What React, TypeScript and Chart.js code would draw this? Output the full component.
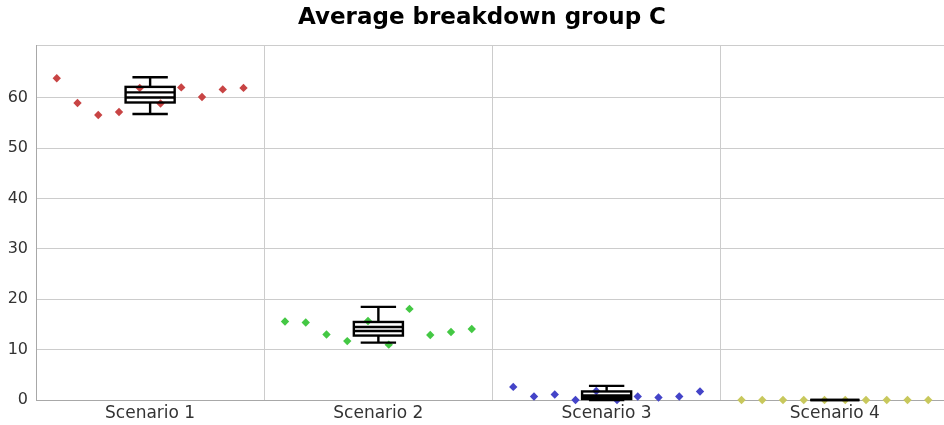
import React, { useEffect, useRef } from "react";
import { Chart, registerables } from "chart.js";

Chart.register(...registerables);

const chartTitle = "Average breakdown group C";
const categories = ["Scenario 1", "Scenario 2", "Scenario 3", "Scenario 4"];

const scenario1 = [63.9, 59.0, 56.6, 57.2, 62.0, 58.9, 62.1, 60.2, 61.7, 62.0];
const scenario2 = [15.6, 15.4, 13.0, 11.7, 15.7, 11.0, 18.1, 12.9, 13.5, 14.1];
const scenario3 = [2.6, 0.7, 1.1, 0.0, 1.8, 0.0, 0.7, 0.5, 0.7, 1.7];
const scenario4 = [0, 0, 0, 0, 0, 0, 0, 0, 0, 0];
const seriesValues = [scenario1, scenario2, scenario3, scenario4];
const pointColors = ["#c84444", "#44c844", "#4444c8", "#c8c85c"];

const whiskerLow = [56.8, 11.4, 0.0, 0];
const q1 = [59.1, 12.8, 0.2, 0];
const median = [61.1, 14.5, 0.9, 0];
const mean = [60.1, 13.7, 0.6, 0];
const q3 = [62.2, 15.5, 1.7, 0];
const whiskerHigh = [64.1, 18.5, 2.8, 0];

const yMax = 70.4;
const yStep = 10;

const BOX_W = 0.215;
const CAP_W = 0.155;
const TITLE_SHIFT = 15;
const GRID = "#cccccc";
const AXIS = "#a8a8a8";
const FONT = "'DejaVu Sans', Verdana, sans-serif";

const titleShiftPlugin = {
  id: "titleShift",
  afterLayout(chart: any) {
    const t = chart.titleBlock;
    if (t) t.left = t.left + TITLE_SHIFT;
  },
};

const boxPlugin = {
  id: "boxes",
  afterDatasetsDraw(chart: any) {
    const { ctx } = chart;
    const x = chart.scales.x;
    const y = chart.scales.y;
    ctx.save();
    ctx.strokeStyle = "#000";
    ctx.lineWidth = 2.4;
    categories.forEach((_, i) => {
      const l = x.getPixelForValue(i - BOX_W / 2);
      const r = x.getPixelForValue(i + BOX_W / 2);
      const cl = x.getPixelForValue(i - CAP_W / 2);
      const cr = x.getPixelForValue(i + CAP_W / 2);
      const cx = x.getPixelForValue(i);
      const yq1 = y.getPixelForValue(q1[i]);
      const yq3 = y.getPixelForValue(q3[i]);
      const ylo = y.getPixelForValue(whiskerLow[i]);
      const yhi = y.getPixelForValue(whiskerHigh[i]);
      const ymed = y.getPixelForValue(median[i]);
      const ymean = y.getPixelForValue(mean[i]);
      ctx.beginPath();
      ctx.moveTo(cx, yq3);
      ctx.lineTo(cx, yhi);
      ctx.moveTo(cl, yhi);
      ctx.lineTo(cr, yhi);
      ctx.moveTo(cx, yq1);
      ctx.lineTo(cx, ylo);
      ctx.moveTo(cl, ylo);
      ctx.lineTo(cr, ylo);
      ctx.moveTo(l, ymed);
      ctx.lineTo(r, ymed);
      ctx.moveTo(l, ymean);
      ctx.lineTo(r, ymean);
      ctx.stroke();
      ctx.strokeRect(l, yq3, r - l, yq1 - yq3);
    });
    ctx.restore();
  },
};

export default function App() {
  const ref = useRef<HTMLCanvasElement>(null);

  useEffect(() => {
    if (!ref.current) return;
    const datasets = seriesValues.map((vals, ci) => ({
      label: categories[ci],
      data: vals.map((v, i) => ({ x: ci + (i + 1) / (vals.length + 1) - 0.5, y: v })),
      backgroundColor: pointColors[ci],
      borderColor: pointColors[ci],
      pointStyle: "rectRot",
      pointRadius: 4.2,
      pointBorderWidth: 0,
      clip: false,
    }));
    const halfTicks: number[] = [];
    for (let i = 0; i < categories.length; i++) {
      halfTicks.push(i - 0.5, i);
    }
    halfTicks.push(categories.length - 0.5);

    const chart = new Chart(ref.current, {
      type: "scatter",
      data: { datasets: datasets as any },
      plugins: [titleShiftPlugin, boxPlugin],
      options: {
        animation: false,
        responsive: false,
        maintainAspectRatio: false,
        layout: { padding: { left: 0, right: 15, top: 0, bottom: 0 } },
        plugins: {
          legend: { display: false },
          tooltip: { enabled: false },
          title: {
            display: true,
            text: chartTitle,
            color: "#000",
            font: { family: FONT, weight: "bold", size: 23 },
            padding: { top: 4, bottom: 14 },
          },
        },
        scales: {
          x: {
            type: "linear",
            min: -0.5,
            max: categories.length - 0.5,
            afterBuildTicks: (s: any) => {
              s.ticks = halfTicks.map((v) => ({ value: v }));
            },
            afterFit: (s: any) => {
              s.height = 25;
            },
            grid: {
              color: (c: any) => (c.tick && !Number.isInteger(c.tick.value) ? GRID : "rgba(0,0,0,0)"),
              drawTicks: false,
              lineWidth: 1,
            },
            border: { color: AXIS, width: 1 },
            ticks: {
              autoSkip: false,
              maxRotation: 0,
              padding: 3,
              color: "#333",
              font: { family: FONT, size: 17 },
              callback: (v: any) => (Number.isInteger(v) ? categories[v] : ""),
            },
          },
          y: {
            min: 0,
            max: yMax,
            afterFit: (s: any) => {
              s.width = 36;
            },
            grid: { color: GRID, drawTicks: false },
            border: { color: AXIS, width: 1 },
            ticks: {
              stepSize: yStep,
              padding: 8,
              color: "#333",
              font: { family: FONT, size: 16 },
              callback: (v: any) => (v % yStep === 0 ? String(v) : ""),
            },
          },
        },
      },
    });
    return () => chart.destroy();
  }, []);

  return (
    <div style={{ position: "fixed", left: 0, top: 0, width: 944, height: 425, overflow: "hidden", background: "#fff" }}>
      <canvas ref={ref} width={964} height={425} style={{ display: "block", width: 964, height: 425 }} />
    </div>
  );
}
